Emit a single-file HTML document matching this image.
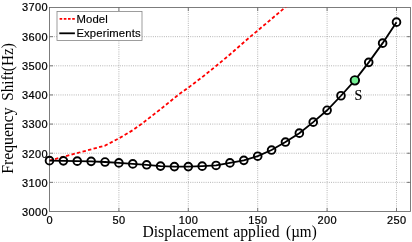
<!DOCTYPE html><html><head><meta charset="utf-8"><style>html,body{margin:0;padding:0;background:#fff}svg{display:block;will-change:transform}</style></head><body><svg width="412" height="242" viewBox="0 0 412 242">
<rect width="412" height="242" fill="#fff"/>
<g stroke="#777" stroke-width="0.6" stroke-dasharray="0.9 1.3" fill="none"><line x1="118.90" y1="7.5" x2="118.90" y2="211.5"/><line x1="188.30" y1="7.5" x2="188.30" y2="211.5"/><line x1="257.70" y1="7.5" x2="257.70" y2="211.5"/><line x1="327.10" y1="7.5" x2="327.10" y2="211.5"/><line x1="396.50" y1="7.5" x2="396.50" y2="211.5"/><line x1="49.5" y1="182.36" x2="410.5" y2="182.36"/><line x1="49.5" y1="153.22" x2="410.5" y2="153.22"/><line x1="49.5" y1="124.08" x2="410.5" y2="124.08"/><line x1="49.5" y1="94.94" x2="410.5" y2="94.94"/><line x1="49.5" y1="65.80" x2="410.5" y2="65.80"/><line x1="49.5" y1="36.66" x2="410.5" y2="36.66"/></g>
<rect x="49.5" y="7.5" width="361.0" height="204.0" fill="none" stroke="#666" stroke-width="0.85"/>
<g stroke="#666" stroke-width="0.85"><line x1="118.90" y1="211.5" x2="118.90" y2="208.0"/><line x1="118.90" y1="7.5" x2="118.90" y2="11.0"/><line x1="188.30" y1="211.5" x2="188.30" y2="208.0"/><line x1="188.30" y1="7.5" x2="188.30" y2="11.0"/><line x1="257.70" y1="211.5" x2="257.70" y2="208.0"/><line x1="257.70" y1="7.5" x2="257.70" y2="11.0"/><line x1="327.10" y1="211.5" x2="327.10" y2="208.0"/><line x1="327.10" y1="7.5" x2="327.10" y2="11.0"/><line x1="396.50" y1="211.5" x2="396.50" y2="208.0"/><line x1="396.50" y1="7.5" x2="396.50" y2="11.0"/><line x1="49.5" y1="182.36" x2="53.0" y2="182.36"/><line x1="410.5" y1="182.36" x2="407.0" y2="182.36"/><line x1="49.5" y1="153.22" x2="53.0" y2="153.22"/><line x1="410.5" y1="153.22" x2="407.0" y2="153.22"/><line x1="49.5" y1="124.08" x2="53.0" y2="124.08"/><line x1="410.5" y1="124.08" x2="407.0" y2="124.08"/><line x1="49.5" y1="94.94" x2="53.0" y2="94.94"/><line x1="410.5" y1="94.94" x2="407.0" y2="94.94"/><line x1="49.5" y1="65.80" x2="53.0" y2="65.80"/><line x1="410.5" y1="65.80" x2="407.0" y2="65.80"/><line x1="49.5" y1="36.66" x2="53.0" y2="36.66"/><line x1="410.5" y1="36.66" x2="407.0" y2="36.66"/></g>
<clipPath id="c"><rect x="49.5" y="7.5" width="361.0" height="204.0"/></clipPath>
<polyline points="49.50,160.50 105.02,145.64 118.90,138.36 132.78,130.20 141.39,124.08 160.54,109.22 178.17,94.94 188.30,87.66 202.18,77.16 216.34,65.80 229.94,54.44 250.34,36.66 257.70,30.54 271.58,18.88 285.04,7.52 291.01,2.57" fill="none" stroke="#f00" stroke-width="1.8" stroke-dasharray="3.4 2.3" clip-path="url(#c)"/>
<polyline points="49.50,160.65 63.38,160.85 77.26,161.15 91.14,161.35 105.02,162.02 118.90,162.89 132.78,163.91 146.66,164.79 160.54,166.10 174.42,166.62 188.30,166.62 202.18,166.16 216.06,165.43 229.94,162.89 243.82,160.36 257.70,156.19 271.58,150.07 285.46,142.06 299.34,133.17 313.22,122.16 327.10,110.27 340.98,95.76 354.86,80.37 368.74,62.36 382.62,43.13 396.50,22.15" fill="none" stroke="#000" stroke-width="1.8"/>
<circle cx="49.50" cy="160.65" r="3.85" fill="none" stroke="#000" stroke-width="1.9"/>
<circle cx="63.38" cy="160.85" r="3.85" fill="none" stroke="#000" stroke-width="1.9"/>
<circle cx="77.26" cy="161.15" r="3.85" fill="none" stroke="#000" stroke-width="1.9"/>
<circle cx="91.14" cy="161.35" r="3.85" fill="none" stroke="#000" stroke-width="1.9"/>
<circle cx="105.02" cy="162.02" r="3.85" fill="none" stroke="#000" stroke-width="1.9"/>
<circle cx="118.90" cy="162.89" r="3.85" fill="none" stroke="#000" stroke-width="1.9"/>
<circle cx="132.78" cy="163.91" r="3.85" fill="none" stroke="#000" stroke-width="1.9"/>
<circle cx="146.66" cy="164.79" r="3.85" fill="none" stroke="#000" stroke-width="1.9"/>
<circle cx="160.54" cy="166.10" r="3.85" fill="none" stroke="#000" stroke-width="1.9"/>
<circle cx="174.42" cy="166.62" r="3.85" fill="none" stroke="#000" stroke-width="1.9"/>
<circle cx="188.30" cy="166.62" r="3.85" fill="none" stroke="#000" stroke-width="1.9"/>
<circle cx="202.18" cy="166.16" r="3.85" fill="none" stroke="#000" stroke-width="1.9"/>
<circle cx="216.06" cy="165.43" r="3.85" fill="none" stroke="#000" stroke-width="1.9"/>
<circle cx="229.94" cy="162.89" r="3.85" fill="none" stroke="#000" stroke-width="1.9"/>
<circle cx="243.82" cy="160.36" r="3.85" fill="none" stroke="#000" stroke-width="1.9"/>
<circle cx="257.70" cy="156.19" r="3.85" fill="none" stroke="#000" stroke-width="1.9"/>
<circle cx="271.58" cy="150.07" r="3.85" fill="none" stroke="#000" stroke-width="1.9"/>
<circle cx="285.46" cy="142.06" r="3.85" fill="none" stroke="#000" stroke-width="1.9"/>
<circle cx="299.34" cy="133.17" r="3.85" fill="none" stroke="#000" stroke-width="1.9"/>
<circle cx="313.22" cy="122.16" r="3.85" fill="none" stroke="#000" stroke-width="1.9"/>
<circle cx="327.10" cy="110.27" r="3.85" fill="none" stroke="#000" stroke-width="1.9"/>
<circle cx="340.98" cy="95.76" r="3.85" fill="none" stroke="#000" stroke-width="1.9"/>
<circle cx="354.86" cy="80.37" r="4.25" fill="#74f094" stroke="#000" stroke-width="1.9"/>
<circle cx="368.74" cy="62.36" r="3.85" fill="none" stroke="#000" stroke-width="1.9"/>
<circle cx="382.62" cy="43.13" r="3.85" fill="none" stroke="#000" stroke-width="1.9"/>
<circle cx="396.50" cy="22.15" r="3.85" fill="none" stroke="#000" stroke-width="1.9"/>
<g font-family="Liberation Sans, sans-serif" font-size="11" letter-spacing="0.35" fill="#000" stroke="#000" stroke-width="0.22"><text x="22.1" y="11.25">3700</text><text x="22.1" y="40.52">3600</text><text x="22.1" y="69.79">3500</text><text x="22.1" y="99.06">3400</text><text x="22.1" y="128.33">3300</text><text x="22.1" y="157.60">3200</text><text x="22.1" y="186.87">3100</text><text x="22.1" y="216.14">3000</text><text x="46.44" y="223.8">0</text><text x="112.61" y="223.8">50</text><text x="178.78" y="223.8">100</text><text x="248.18" y="223.8">150</text><text x="317.58" y="223.8">200</text><text x="386.98" y="223.8">250</text></g>
<rect x="57" y="11.5" width="85" height="29" fill="#fff" stroke="#858585" stroke-width="0.8"/>
<line x1="59.6" y1="18.8" x2="74.9" y2="18.8" stroke="#f00" stroke-width="1.8" stroke-dasharray="2.6 1.6"/>
<line x1="59.3" y1="33.3" x2="74.9" y2="33.3" stroke="#000" stroke-width="1.8"/>
<g font-family="Liberation Sans, sans-serif" font-size="11.3" letter-spacing="0.15" fill="#000" stroke="#000" stroke-width="0.15"><text x="76.4" y="22.8">Model</text><text x="76.4" y="36.6">Experiments</text></g>
<g font-family="Liberation Serif, serif" font-size="15.7" fill="#000"><text x="142.4" y="236.9">Displacement</text><text x="233.3" y="236.9">applied</text><text x="286.1" y="236.9" textLength="30.6" lengthAdjust="spacingAndGlyphs">(µm)</text></g>
<g font-family="Liberation Serif, serif" font-size="15.7" fill="#000"><text transform="translate(12.6,173.7) rotate(-90)">Frequency</text><text transform="translate(12.6,100.7) rotate(-90)" textLength="57.4" lengthAdjust="spacingAndGlyphs">Shift(Hz)</text></g>
<text x="354.4" y="99.5" font-family="Liberation Serif, serif" font-size="14" fill="#000" stroke="#000" stroke-width="0.15">S</text>
</svg></body></html>
